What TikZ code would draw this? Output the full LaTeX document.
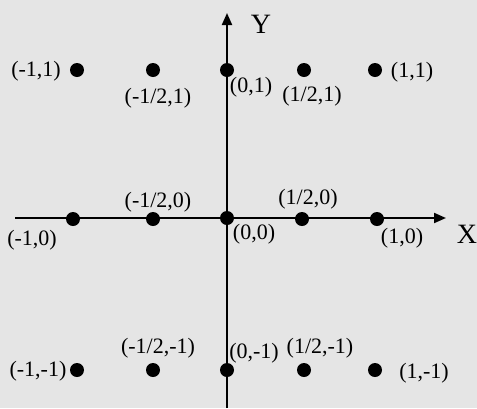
\documentclass[tikz,border=0pt]{standalone}
\usepackage{fontspec}
\setmainfont{Liberation Serif}
\usetikzlibrary{arrows.meta}
\definecolor{paper}{RGB}{229,229,229}
\tikzset{
  dot/.style={circle,fill=black,inner sep=0pt,minimum size=14pt},
  lbl/.style={inner sep=0pt,font=\fontsize{22}{24}\selectfont},
  axlbl/.style={inner sep=0pt,font=\fontsize{28}{30}\selectfont},
  axis/.style={line width=2pt,-{Triangle[length=12pt,width=10pt]}}
}
\begin{document}
\begin{tikzpicture}[x=1pt,y=-1pt]
\fill[paper] (0,0) rectangle (477,408);
\useasboundingbox (0,0) rectangle (477,408);
% axes
\coordinate (xs) at (15,218);
\coordinate (xe) at (446,218);
\coordinate (ys) at (227,408);
\coordinate (ye) at (227,13);
\draw[axis] (xs) -- (xe);
\draw[axis] (ys) -- (ye);
\node[axlbl] (Y) at (261,24) {Y};
\node[axlbl] (X) at (467,234) {X};
% dots
\node[dot] (a1) at (77,70) {};
\node[dot] (a2) at (153,70) {};
\node[dot] (a3) at (227,70) {};
\node[dot] (a4) at (304,70) {};
\node[dot] (a5) at (375,70) {};
\node[dot] (b1) at (73,219) {};
\node[dot] (b2) at (153,219) {};
\node[dot] (b3) at (227,218) {};
\node[dot] (b4) at (302,219) {};
\node[dot] (b5) at (377,219) {};
\node[dot] (c1) at (77,370) {};
\node[dot] (c2) at (153,370) {};
\node[dot] (c3) at (227,370) {};
\node[dot] (c4) at (304,370) {};
\node[dot] (c5) at (375,370) {};
% labels
\node[lbl] (la1) at (36,71) {(-1,1)};
\node[lbl] (la2) at (158,98) {(-1/2,1)};
\node[lbl] (la3) at (251,87) {(0,1)};
\node[lbl] (la4) at (312,96) {(1/2,1)};
\node[lbl] (la5) at (412,72) {(1,1)};
\node[lbl] (lb1) at (32,240) {(-1,0)};
\node[lbl] (lb2) at (158,202) {(-1/2,0)};
\node[lbl] (lb3) at (254,234) {(0,0)};
\node[lbl] (lb4) at (308,199) {(1/2,0)};
\node[lbl] (lb5) at (402,238) {(1,0)};
\node[lbl] (lc1) at (38,371) {(-1,-1)};
\node[lbl] (lc2) at (158,348) {(-1/2,-1)};
\node[lbl] (lc3) at (254,353) {(0,-1)};
\node[lbl] (lc4) at (320,348) {(1/2,-1)};
\node[lbl] (lc5) at (424,373) {(1,-1)};
\end{tikzpicture}
\end{document}
